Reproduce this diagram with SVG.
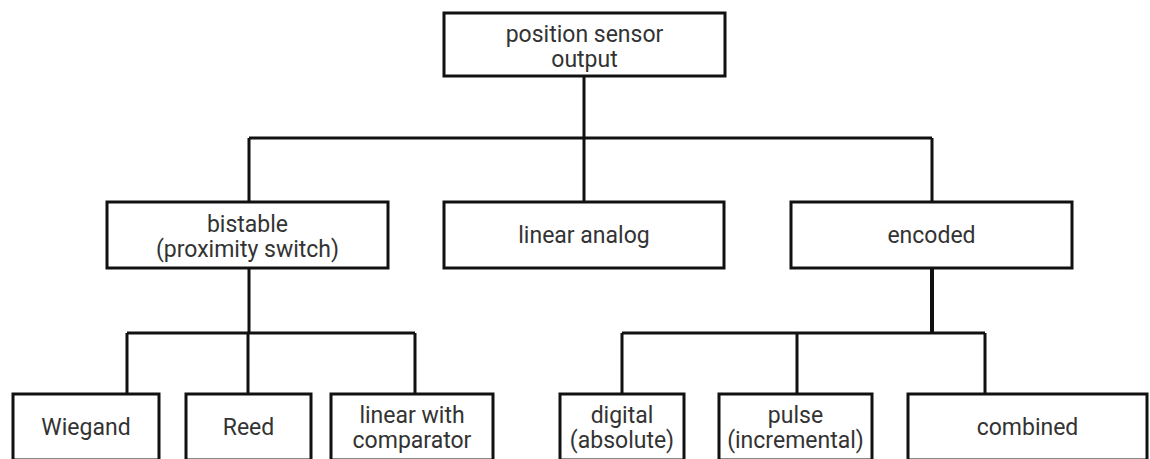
<svg xmlns="http://www.w3.org/2000/svg" width="1150" height="459" viewBox="0 0 1150 459">
<style>
.box{fill:#fff;stroke:#111;stroke-width:3}
.t{font-family:Roboto,"Liberation Sans",sans-serif;font-size:23px;fill:#333;text-anchor:middle}
.c{fill:none;stroke:#111;stroke-width:3}
</style>
<rect width="1150" height="459" fill="#fff"/>
<g id="connectors">
<path class="c" d="M584 76V138M249 138H932M249 138V202M584 138V202M932 138V202"/>
<path class="c" d="M249 268V333M127 333H415M127 333V394M248 333V394M415 333V394"/>
<path class="c" d="M622 333H985M622 333V394M797 333V394M985 333V394"/>
<path class="c" d="M932 268V333" style="stroke-width:4"/>
</g>
<g id="n-root"><rect class="box" x="444" y="13" width="281" height="63"/><text class="t" x="584.5" y="42">position sensor</text><text class="t" x="584.5" y="67">output</text></g>
<g id="n-bistable"><rect class="box" x="107" y="202" width="281" height="66"/><text class="t" x="247.5" y="232">bistable</text><text class="t" x="247.5" y="257">(proximity switch)</text></g>
<g id="n-linear"><rect class="box" x="444" y="202" width="280" height="66"/><text class="t" x="584" y="243">linear analog</text></g>
<g id="n-encoded"><rect class="box" x="791" y="202" width="281" height="66"/><text class="t" x="931.5" y="243">encoded</text></g>
<g id="n-wiegand"><rect class="box" x="13" y="394" width="146" height="66"/><text class="t" x="86" y="435">Wiegand</text></g>
<g id="n-reed"><rect class="box" x="186" y="394" width="125" height="66"/><text class="t" x="248.5" y="435">Reed</text></g>
<g id="n-lincomp"><rect class="box" x="331" y="394" width="162" height="66"/><text class="t" x="412" y="423">linear with</text><text class="t" x="412" y="448">comparator</text></g>
<g id="n-digital"><rect class="box" x="560" y="394" width="124" height="66"/><text class="t" x="622" y="423">digital</text><text class="t" x="622" y="448">(absolute)</text></g>
<g id="n-pulse"><rect class="box" x="719" y="394" width="153" height="66"/><text class="t" x="795.5" y="423">pulse</text><text class="t" x="795.5" y="448">(incremental)</text></g>
<g id="n-combined"><rect class="box" x="908" y="394" width="239" height="66"/><text class="t" x="1027.5" y="435">combined</text></g>
</svg>
